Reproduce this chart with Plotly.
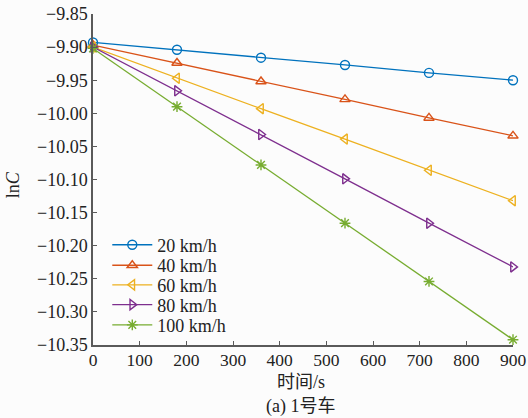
import plotly.graph_objects as go

time_s = [0, 180, 360, 540, 720, 900]
series_names = ["20 km/h", "40 km/h", "60 km/h", "80 km/h", "100 km/h"]
v20 = [-9.893, -9.904, -9.916, -9.927, -9.939, -9.950]
v40 = [-9.897, -9.924, -9.952, -9.979, -10.007, -10.034]
v60 = [-9.900, -9.947, -9.993, -10.039, -10.086, -10.132]
v80 = [-9.900, -9.966, -10.032, -10.099, -10.166, -10.232]
v100 = [-9.902, -9.990, -10.078, -10.166, -10.254, -10.342]
y_ticks = [-9.85, -9.90, -9.95, -10.00, -10.05, -10.10, -10.15, -10.20, -10.25, -10.30, -10.35]
x_ticks = [0, 100, 200, 300, 400, 500, 600, 700, 800, 900]

colors = ["#0072BD", "#D95319", "#EDB120", "#7E2F8E", "#77AC30"]
symbols = ["circle-open", "triangle-up-open", "triangle-left-open", "triangle-right-open", "asterisk-open"]
values = [v20, v40, v60, v80, v100]
legend_ids = ["legend", "legend2", "legend3", "legend4", "legend5"]
legend_y = [0.302, 0.240, 0.181, 0.121, 0.060]

serif = "Liberation Serif, serif"
cjk = "Liberation Serif, Noto Sans CJK SC, serif"

fig = go.Figure()
for name, vals, c, s, lg in zip(series_names, values, colors, symbols, legend_ids):
    fig.add_trace(go.Scatter(
        x=time_s, y=vals, name=name, mode="lines+markers",
        line=dict(color=c, width=1.3),
        marker=dict(symbol=s, size=9, color=c, line=dict(color=c, width=1.4)),
        cliponaxis=False, legend=lg,
    ))

legend_layout = {}
for lg, ly in zip(legend_ids, legend_y):
    legend_layout[lg] = dict(x=0.034, y=ly, xanchor="left", yanchor="middle",
                             bgcolor="rgba(0,0,0,0)", borderwidth=0,
                             font=dict(family=serif, size=18, color="#222222"),
                             itemwidth=40)

axis_color = "#5a5a5a"
fig.update_layout(
    width=528, height=418,
    margin=dict(l=93, r=15, t=14, b=73),
    paper_bgcolor="#fcfcfc", plot_bgcolor="#fcfcfc",
    font=dict(family=serif, size=17, color="#222222"),
    showlegend=True,
    xaxis=dict(range=[0, 900], tickvals=x_ticks, ticks="inside", ticklen=4,
               tickcolor=axis_color, showline=True, linecolor=axis_color,
               linewidth=1.5, showgrid=False, zeroline=False, automargin=False,
               ticklabelstandoff=-2, ticklabeloverflow="allow",
               tickfont=dict(family=serif, size=17.5, color="#222222")),
    yaxis=dict(range=[-10.35, -9.85], tickvals=y_ticks, tickformat=".2f",
               ticks="inside", ticklen=4, tickcolor=axis_color, showline=True,
               linecolor=axis_color, linewidth=1.5, showgrid=False, zeroline=False,
               automargin=False, ticklabeloverflow="allow",
               tickfont=dict(family=serif, size=18, color="#222222")),
    annotations=[
        dict(text="ln<i>C</i>", xref="paper", yref="paper", x=-0.190, y=0.483,
             textangle=-90, showarrow=False, xanchor="center", yanchor="middle",
             font=dict(family=serif, size=18, color="#222222")),
        dict(text="时间/s", xref="paper", yref="paper", x=0.495, y=-0.112,
             showarrow=False, xanchor="center", yanchor="middle",
             font=dict(family=cjk, size=18, color="#222222")),
        dict(text="(a) 1号车", xref="paper", yref="paper", x=0.495, y=-0.187,
             showarrow=False, xanchor="center", yanchor="middle",
             font=dict(family=cjk, size=18, color="#222222")),
    ],
    **legend_layout,
)

fig.write_html("out.html", config={"displayModeBar": False},
               post_script="document.body.style.margin='0';")
